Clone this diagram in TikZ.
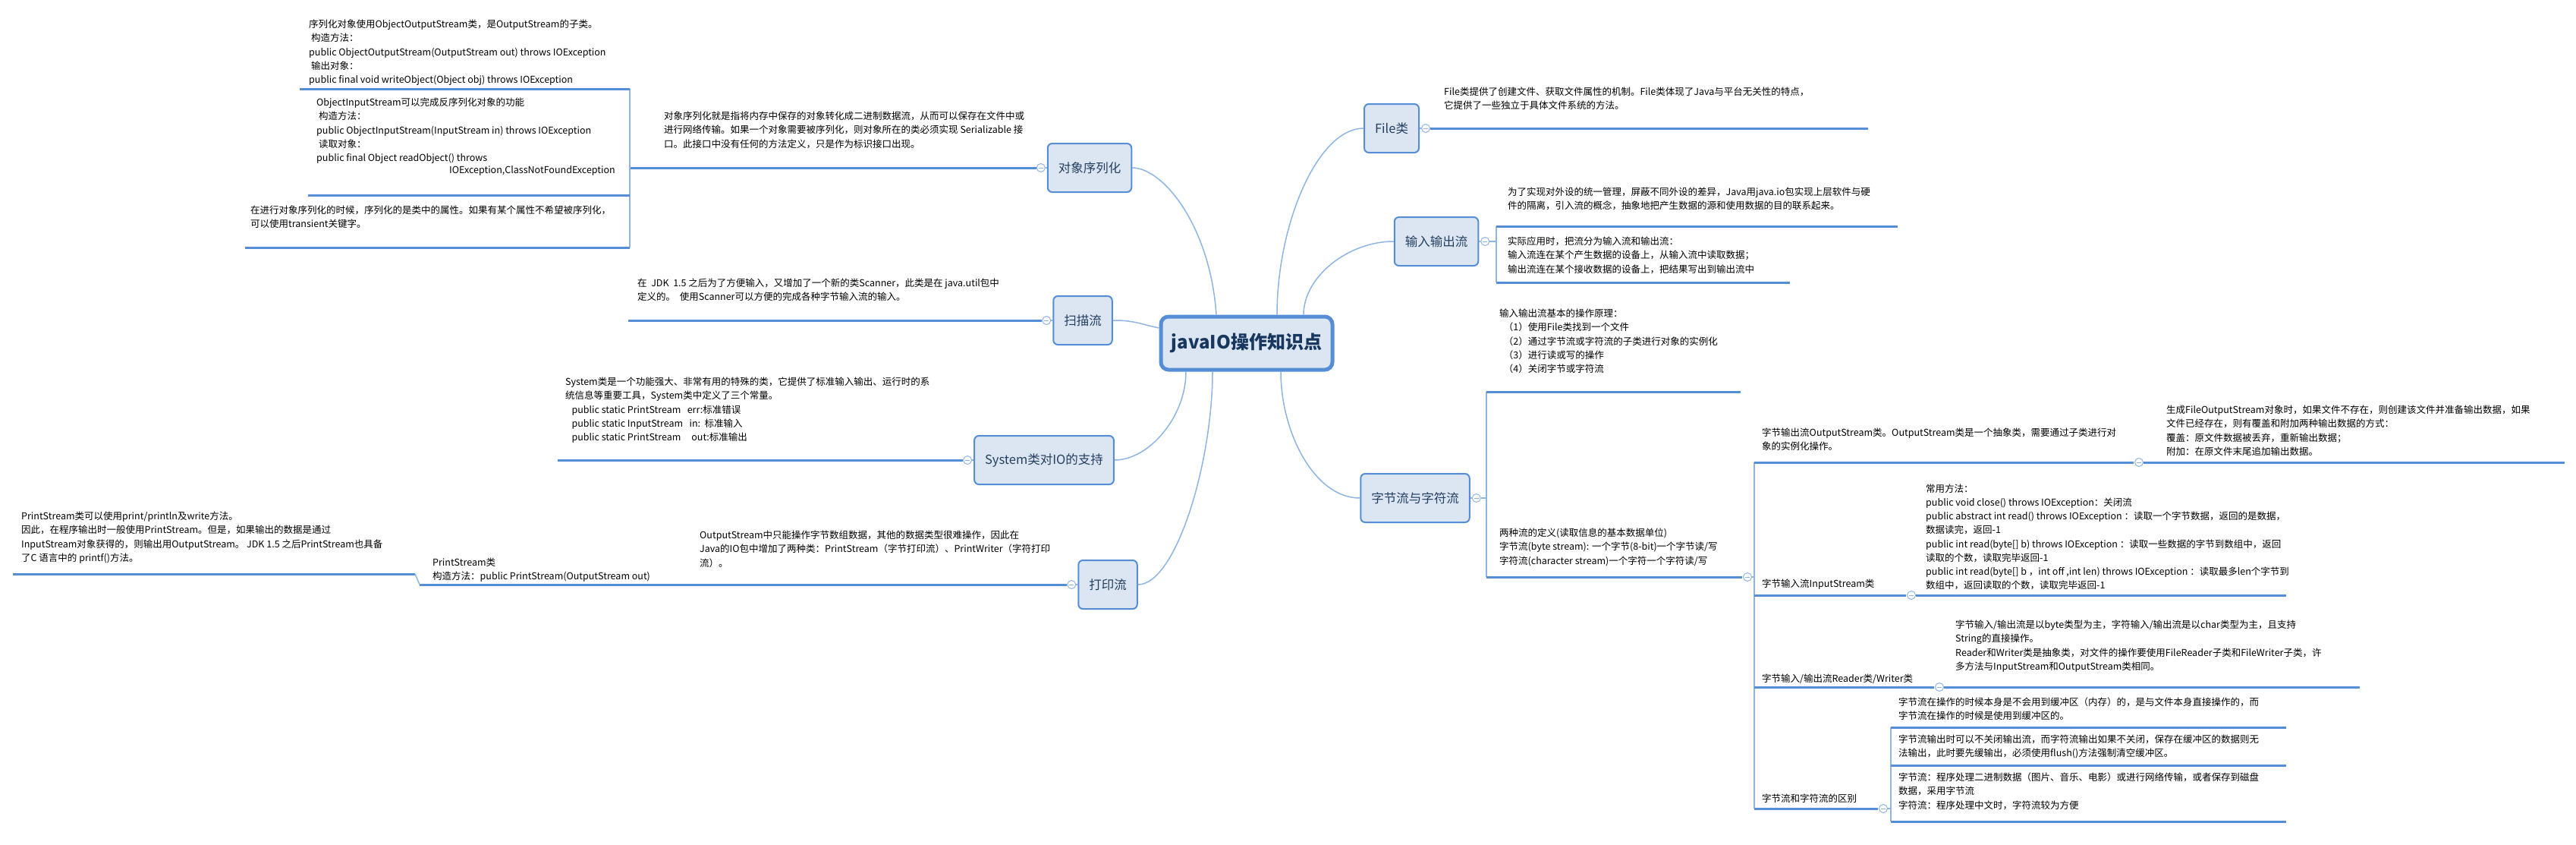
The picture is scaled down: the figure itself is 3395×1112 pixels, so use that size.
\documentclass[tikz,border=0pt]{standalone}
\usepackage{fontspec}
\setmainfont{Noto Sans CJK SC}
\usetikzlibrary{calc}
\definecolor{lineblue}{HTML}{558ED5}
\definecolor{topicfill}{HTML}{DCE6F2}
\definecolor{connblue}{HTML}{8EB4E3}
\definecolor{topictext}{HTML}{243F60}
\definecolor{roottext}{HTML}{17375E}
\begin{document}
\begin{tikzpicture}[x=1pt,y=-1pt,
  desc/.style={anchor=north west, inner sep=0pt, align=left, font=\fontsize{12.5}{18.4}\selectfont},
  topic/.style={draw=lineblue, line width=2pt, fill=topicfill, rounded corners=6pt, inner xsep=14pt, minimum height=64pt, font=\fontsize{16.5}{20}\selectfont, text=topictext},
  rootbox/.style={draw=lineblue, line width=5pt, fill=topicfill, rounded corners=10pt, minimum width=226pt, minimum height=70pt, font=\fontsize{24}{28}\selectfont\bfseries, text=roottext},
  uline/.style={draw=lineblue, line width=3pt},
  conn/.style={draw=connblue, line width=1.5pt},
  circ/.style={circle, draw=connblue, fill=white, line width=1pt, minimum size=11pt, inner sep=0pt,
    path picture={\draw[connblue, line width=0.8pt] ([xshift=-3pt]path picture bounding box.center) -- ([xshift=3pt]path picture bounding box.center);}}
]
\useasboundingbox (0,0) rectangle (3395,1112);

% ---------- root ----------
\node[rootbox] (root) at (1643,452) {javaIO操作知识点};

% ---------- topics ----------
\node[topic] (tser)   at (1436,221) {对象序列化};
\node[topic] (tscan)  at (1427,422) {扫描流};
\node[topic] (tsys)   at (1376,606) {System类对IO的支持};
\node[topic] (tprint) at (1460,770) {打印流};
\node[topic] (tfile)  at (1834,169) {File类};
\node[topic] (tio)    at (1893,318) {输入输出流};
\node[topic] (tbyte)  at (1865,656) {字节流与字符流};

% ---------- root connectors ----------
\coordinate (rs1) at ($(root.north)+(-40,0)$);
\coordinate (rs2) at ($(root.west)+(0,-20)$);
\coordinate (rs3) at ($(root.south)+(-80,0)$);
\coordinate (rs4) at ($(root.south)+(-45,0)$);
\coordinate (rs5) at ($(root.north)+(40,0)$);
\coordinate (rs6) at ($(root.north)+(75,0)$);
\coordinate (rs7) at ($(root.south)+(45,0)$);
\draw[conn] (tser.east) .. controls +(41,0) and +(-8,-116) .. (rs1);
\draw[conn] (tscan.east) .. controls +(30,0) and +(-25,-5) .. (rs2);
\draw[conn] (tsys.east) .. controls +(45,0) and +(0,60) .. (rs3);
\draw[conn] (tprint.east) .. controls +(50,0) and +(0,120) .. (rs4);
\draw[conn] (rs5) .. controls +(0,-120) and +(-60,0) .. (tfile.west);
\draw[conn] (rs6) .. controls +(0,-50) and +(-60,0) .. (tio.west);
\draw[conn] (rs7) .. controls +(0,80) and +(-60,0) .. (tbyte.west);

% ---------- 对象序列化 ----------
\node[circ] (cser) at ($(tser.west)+(-8,0)$) {};
\draw[conn] (cser.east) -- (tser.west);
\coordinate (sp1) at (830,221);
\coordinate (sp1t) at (830,117);
\coordinate (sp1b) at (830,326);
\draw[uline] (sp1) -- (cser.west);
\draw[conn] (sp1t) -- (sp1b);
\node[desc] (dser) at (875,146.5) {对象序列化就是指将内存中保存的对象转化成二进制数据流，从而可以保存在文件中或\\进行网络传输。如果一个对象需要被序列化，则对象所在的类必须实现 Serializable 接\\口。此接口中没有任何的方法定义，只是作为标识接口出现。};
\coordinate (u1a) at (395,117);
\draw[uline] (u1a) -- (sp1t);
\node[desc] (dout) at (407,25.5) {序列化对象使用ObjectOutputStream类，是OutputStream的子类。\\\ 构造方法：\\public ObjectOutputStream(OutputStream out) throws IOException\\\ 输出对象：\\public final void writeObject(Object obj) throws IOException};
\coordinate (u2a) at (406,257);
\coordinate (u2b) at (830,257);
\draw[uline] (u2a) -- (u2b);
\node[desc] (din) at (417,128.5) {ObjectInputStream可以完成反序列化对象的功能\\\ 构造方法：\\public ObjectInputStream(InputStream in) throws IOException\\\ 读取对象：\\public final Object readObject() throws};
\node[desc] (din2) at (592,218.5) {IOException,ClassNotFoundException};
\coordinate (u3a) at (323,326);
\draw[uline] (u3a) -- (sp1b);
\node[desc] (dtrans) at (330,270.5) {在进行对象序列化的时候，序列化的是类中的属性。如果有某个属性不希望被序列化，\\可以使用transient关键字。};

% ---------- 扫描流 ----------
\node[circ] (cscan) at ($(tscan.west)+(-8,0)$) {};
\draw[conn] (cscan.east) -- (tscan.west);
\coordinate (uscan) at (828,422);
\draw[uline] (uscan) -- (cscan.west);
\node[desc] (dscan) at (840,366.5) {在\ \ JDK\ \ 1.5 之后为了方便输入，又增加了一个新的类Scanner，此类是在 java.util包中\\定义的。\ \ 使用Scanner可以方便的完成各种字节输入流的输入。};

% ---------- System ----------
\node[circ] (csys) at ($(tsys.west)+(-8,0)$) {};
\draw[conn] (csys.east) -- (tsys.west);
\coordinate (usys) at (735,606);
\draw[uline] (usys) -- (csys.west);
\node[desc] (dsys) at (745,496.5) {System类是一个功能强大、非常有用的特殊的类，它提供了标准输入输出、运行时的系\\统信息等重要工具，System类中定义了三个常量。\\\ \ \ public static PrintStream\ \ \ err:标准错误\\\ \ \ public static InputStream\ \ \ in:\ \ 标准输入\\\ \ \ public static PrintStream\ \ \ \ \ out:标准输出};

% ---------- 打印流 ----------
\node[circ] (cprint) at ($(tprint.west)+(-8,0)$) {};
\draw[conn] (cprint.east) -- (tprint.west);
\coordinate (uprint) at (907,770);
\draw[uline] (uprint) -- (cprint.west);
\node[desc] (dprint) at (922,698.5) {OutputStream中只能操作字节数组数据，其他的数据类型很难操作，因此在\\Java的IO包中增加了两种类：PrintStream（字节打印流）、PrintWriter（字符打印\\流）。};
\coordinate (ups1) at (553,770);
\draw[uline] (ups1) -- (uprint);
\node[desc] (dps) at (570,734.5) {PrintStream类\\构造方法：public PrintStream(OutputStream out)};
\coordinate (ups2a) at (17,756);
\coordinate (ups2b) at (547,756);
\draw[uline] (ups2a) -- (ups2b);
\draw[conn] (ups2b) -- (ups1);
\node[desc] (dps2) at (28,673.5) {PrintStream类可以使用print/println及write方法。\\因此，在程序输出时一般使用PrintStream。但是，如果输出的数据是通过\\InputStream对象获得的，则输出用OutputStream。 JDK 1.5 之后PrintStream也具备\\了C 语言中的 printf()方法。};

% ---------- File类 ----------
\node[circ] (cfile) at ($(tfile.east)+(8,0)$) {};
\draw[conn] (tfile.east) -- (cfile.west);
\coordinate (ufile) at (2462,169);
\draw[uline] (cfile.east) -- (ufile);
\node[desc] (dfile) at (1903,114.5) {File类提供了创建文件、获取文件属性的机制。File类体现了Java与平台无关性的特点，\\它提供了一些独立于具体文件系统的方法。};

% ---------- 输入输出流 ----------
\node[circ] (cio) at ($(tio.east)+(8,0)$) {};
\draw[conn] (tio.east) -- (cio.west);
\coordinate (sio) at (1972,318);
\coordinate (sio1) at (1972,298);
\coordinate (sio2) at (1972,372);
\draw[conn] (cio.east) -- (sio);
\draw[conn] (sio1) -- (sio2);
\coordinate (uio1) at (2501,298);
\coordinate (uio2) at (2359,372);
\draw[uline] (sio1) -- (uio1);
\draw[uline] (sio2) -- (uio2);
\node[desc] (dio1) at (1987,246.5) {为了实现对外设的统一管理，屏蔽不同外设的差异，Java用java.io包实现上层软件与硬\\件的隔离，引入流的概念，抽象地把产生数据的源和使用数据的目的联系起来。};
\node[desc] (dio2) at (1987,311.5) {实际应用时，把流分为输入流和输出流：\\输入流连在某个产生数据的设备上，从输入流中读取数据；\\输出流连在某个接收数据的设备上，把结果写出到输出流中};

% ---------- 字节流与字符流 ----------
\node[circ] (cbyte) at ($(tbyte.east)+(8,0)$) {};
\draw[conn] (tbyte.east) -- (cbyte.west);
\coordinate (sb) at (1959,656);
\coordinate (sb1) at (1959,516);
\coordinate (sb2) at (1959,760);
\draw[conn] (cbyte.east) -- (sb);
\draw[conn] (sb1) -- (sb2);
\coordinate (ub1) at (2294,516);
\coordinate (ub2) at (2296,760);
\draw[uline] (sb1) -- (ub1);
\draw[uline] (sb2) -- (ub2);
\node[desc] (dba) at (1976,406.5) {输入输出流基本的操作原理：\\\ \ （1）使用File类找到一个文件\\\ \ （2）通过字节流或字符流的子类进行对象的实例化\\\ \ （3）进行读或写的操作\\\ \ （4）关闭字节或字符流};
\node[desc] (dbb) at (1976,695.5) {两种流的定义(读取信息的基本数据单位)\\字节流(byte stream): 一个字节(8-bit)一个字节读/写\\字符流(character stream)一个字符一个字符读/写};
\node[circ] (cbb) at ($(ub2)+(7,0)$) {};
\coordinate (sg) at (2312,760);
\coordinate (sg1) at (2312,609);
\coordinate (sg4) at (2312,1065);
\draw[conn] (cbb.east) -- (sg);
\draw[conn] (sg1) -- (sg4);
% G1
\coordinate (ug1) at (2812,609);
\draw[uline] (sg1) -- (ug1);
\node[desc] (dg1) at (2322,563.5) {字节输出流OutputStream类。OutputStream类是一个抽象类，需要通过子类进行对\\象的实例化操作。};
\node[circ] (cg1) at ($(ug1)+(7,0)$) {};
\coordinate (ug1c) at (3380,609);
\draw[uline] (cg1.east) -- (ug1c);
\node[desc] (dg1c) at (2855,533.5) {生成FileOutputStream对象时，如果文件不存在，则创建该文件并准备输出数据，如果\\文件已经存在，则有覆盖和附加两种输出数据的方式：\\覆盖：原文件数据被丢弃，重新输出数据；\\附加：在原文件末尾追加输出数据。};
% G2
\coordinate (sg2) at (2312,784);
\coordinate (ug2) at (2512,784);
\draw[uline] (sg2) -- (ug2);
\node[desc] (dg2) at (2322,762.5) {字节输入流InputStream类};
\node[circ] (cg2) at ($(ug2)+(7,0)$) {};
\coordinate (ug2c) at (3013,784);
\draw[uline] (cg2.east) -- (ug2c);
\node[desc, font=\fontsize{12.5}{18.2}\selectfont] (dg2c) at (2538,637.5) {常用方法：\\public void close() throws IOException：关闭流\\public abstract int read() throws IOException ：读取一个字节数据，返回的是数据，\\数据读完，返回-1\\public int read(byte[] b) throws IOException ：读取一些数据的字节到数组中，返回\\读取的个数，读取完毕返回-1\\public int read(byte[] b ，int off ,int len) throws IOException ：读取最多len个字节到\\数组中，返回读取的个数，读取完毕返回-1};
% G3
\coordinate (sg3) at (2312,905);
\coordinate (ug3) at (2549,905);
\draw[uline] (sg3) -- (ug3);
\node[desc] (dg3) at (2322,887.5) {字节输入/输出流Reader类/Writer类};
\node[circ] (cg3) at ($(ug3)+(7,0)$) {};
\coordinate (ug3c) at (3110,905);
\draw[uline] (cg3.east) -- (ug3c);
\node[desc] (dg3c) at (2577,816.5) {字节输入/输出流是以byte类型为主，字符输入/输出流是以char类型为主，且支持\\String的直接操作。\\Reader和Writer类是抽象类，对文件的操作要使用FileReader子类和FileWriter子类，许\\多方法与InputStream和OutputStream类相同。};
% G4
\coordinate (ug4) at (2475,1065);
\draw[uline] (sg4) -- (ug4);
\node[desc] (dg4) at (2322,1045.5) {字节流和字符流的区别};
\node[circ] (cg4) at ($(ug4)+(7,0)$) {};
\coordinate (sh) at (2492,1065);
\coordinate (sh1) at (2492,958);
\coordinate (sh2) at (2492,1008);
\coordinate (sh3) at (2492,1082);
\draw[conn] (cg4.east) -- (sh);
\draw[conn] (sh1) -- (sh3);
\coordinate (uh1) at (3013,958);
\coordinate (uh2) at (3013,1008);
\coordinate (uh3) at (3013,1082);
\draw[uline] (sh1) -- (uh1);
\draw[uline] (sh2) -- (uh2);
\draw[uline] (sh3) -- (uh3);
\node[desc] (dh1) at (2502,918.5) {字节流在操作的时候本身是不会用到缓冲区（内存）的，是与文件本身直接操作的，而\\字节流在操作的时候是使用到缓冲区的。};
\node[desc] (dh2) at (2502,967.5) {字节流输出时可以不关闭输出流，而字符流输出如果不关闭，保存在缓冲区的数据则无\\法输出，此时要先缓输出，必须使用flush()方法强制清空缓冲区。};
\node[desc] (dh3) at (2502,1017.5) {字节流：程序处理二进制数据（图片、音乐、电影）或进行网络传输，或者保存到磁盘\\数据，采用字节流\\字符流：程序处理中文时，字符流较为方便};
\end{tikzpicture}
\end{document}
